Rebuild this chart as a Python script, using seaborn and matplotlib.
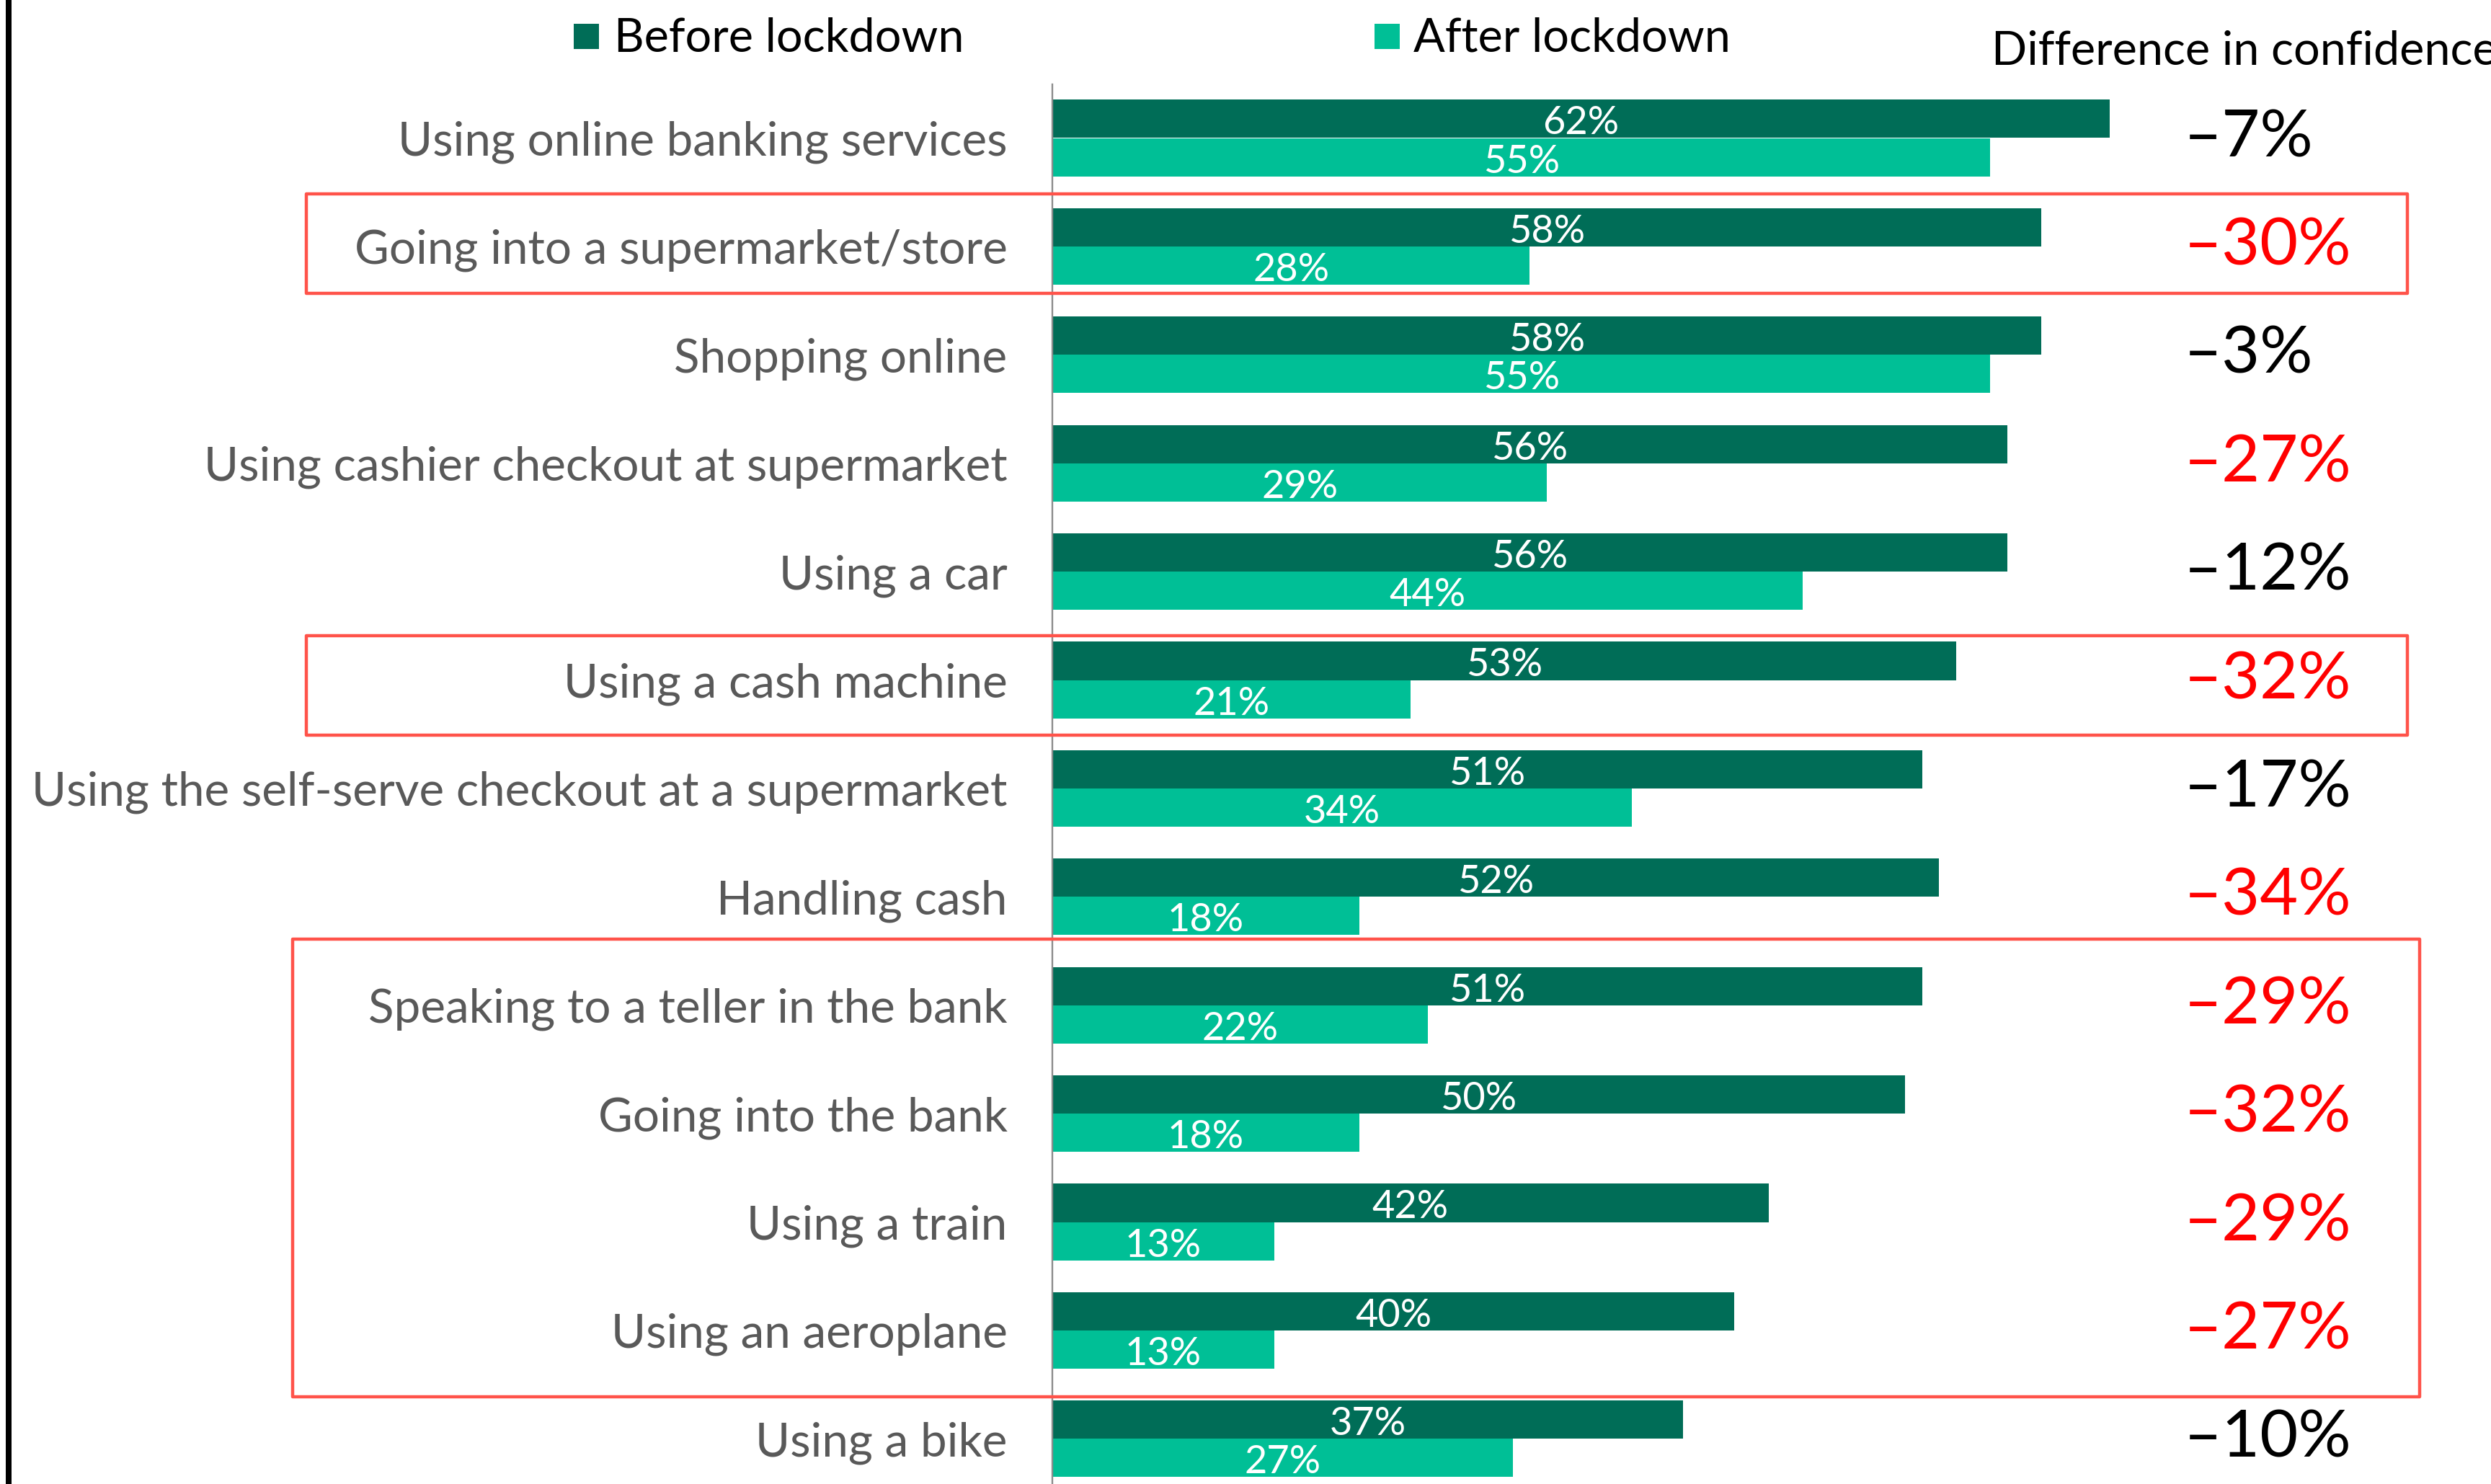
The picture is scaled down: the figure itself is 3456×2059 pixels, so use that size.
import matplotlib
matplotlib.use("Agg")
import matplotlib.pyplot as plt
import matplotlib.transforms as mtransforms
from matplotlib.patches import Rectangle
from matplotlib.lines import Line2D
import pandas as pd
import seaborn as sns

# Confidence in everyday activities, before vs after lockdown (%)
activities = [
    "Using online banking services",
    "Going into a supermarket/store",
    "Shopping online",
    "Using cashier checkout at supermarket",
    "Using a car",
    "Using a cash machine",
    "Using the self-serve checkout at a supermarket",
    "Handling cash",
    "Speaking to a teller in the bank",
    "Going into the bank",
    "Using a train",
    "Using an aeroplane",
    "Using a bike",
]
before = [62, 58, 58, 56, 56, 53, 51, 52, 51, 50, 42, 40, 37]
after = [55, 28, 55, 29, 44, 21, 34, 18, 22, 18, 13, 13, 27]
periods = ["Before lockdown", "After lockdown"]

# groups of rows outlined in red (first row index, last row index)
boxed_groups = [(1, 1), (5, 5), (8, 11)]
big_drop = -27  # differences at or below this are shown in red

DARK = "#006D57"
LIGHT = "#00BF96"
RED_TXT = "#FF0000"
BOX_RED = "#FF534A"
GREY_TXT = "#595959"

sns.set_theme(style="white")
plt.rcParams["font.family"] = ["Lato", "DejaVu Sans"]

W, H, DPI = 3456, 2059, 200
fig = plt.figure(figsize=(W / DPI, H / DPI), dpi=DPI)


def fx(x):
    return x / W


def fy(y):
    return 1 - y / H


AX_LEFT, AX_TOP = 1460, 117
PX_PER_PCT = 23.66
ROW, ROW0 = 150.4, 191.5

ax = fig.add_axes([fx(AX_LEFT), 0, 1 - fx(AX_LEFT), fy(AX_TOP)])

n = len(activities)
df = pd.DataFrame({
    "activity": activities * 2,
    "pct": before + after,
    "period": [periods[0]] * n + [periods[1]] * n,
})

sns.barplot(
    data=df, x="pct", y="activity", hue="period", orient="h",
    order=activities, hue_order=periods, palette=[DARK, LIGHT],
    saturation=1, width=0.705, legend=False, ax=ax,
    edgecolor="none", linewidth=0,
)

ax.set_xlim(0, (W - AX_LEFT) / PX_PER_PCT)
ax.set_ylim((H - ROW0) / ROW, (AX_TOP - ROW0) / ROW)
ax.set_xlabel("")
ax.set_ylabel("")
ax.set_xticks([])
ax.tick_params(axis="y", length=0, pad=22.5, labelsize=23.6, labelcolor=GREY_TXT)
for side in ("top", "right", "bottom"):
    ax.spines[side].set_visible(False)
ax.spines["left"].set_color("#8C8C8C")
ax.spines["left"].set_linewidth(0.85)

# value labels inside each bar
for container in ax.containers:
    for bar in container:
        val = bar.get_width()
        yc = bar.get_y() + bar.get_height() / 2
        ax.text(val / 2, yc + 0.143, f"{val:.0f}%", ha="center", va="baseline",
                color="white", fontsize=19.5)

# difference column
blend = mtransforms.blended_transform_factory(fig.transFigure, ax.transData)
for i, (b, a) in enumerate(zip(before, after)):
    d = a - b
    fig.text(fx(3030), i + 0.17, f"\u2013{abs(d)}%", transform=blend, ha="left",
             va="baseline", fontsize=33,
             color=RED_TXT if d <= big_drop else "black")

fig.text(fx(2763), fy(90), "Difference in confidence", ha="left",
         va="baseline", fontsize=23.3, color="black")

# highlight boxes
box_specs = [
    (boxed_groups[0], 425, 3340, 0.485, 0.433),
    (boxed_groups[1], 425, 3340, 0.41, 0.51),
    (boxed_groups[2], 406, 3357, 0.61, 0.61),
]
for (first, last), left, right, pad_top, pad_bot in box_specs:
    y0 = first - pad_top
    y1 = last + pad_bot
    rect = Rectangle((fx(left), y0), fx(right) - fx(left), y1 - y0,
                     transform=blend, fill=False, edgecolor=BOX_RED,
                     linewidth=1.6, joinstyle="round", clip_on=False, zorder=5)
    fig.add_artist(rect)

# legend
for label, color, sq_x, txt_x in [(periods[0], DARK, 796, 852),
                                   (periods[1], LIGHT, 1907, 1961)]:
    fig.add_artist(Rectangle((fx(sq_x), fy(68)), 35 / W, 35 / H,
                             transform=fig.transFigure, facecolor=color,
                             edgecolor="none"))
    fig.text(fx(txt_x), fy(72), label, ha="left", va="baseline",
             fontsize=23.3, color="black")

# frame line at the left edge
fig.add_artist(Line2D([fx(12), fx(12)], [0, 1], transform=fig.transFigure,
                      color="black", linewidth=8 * 72 / DPI))

fig.savefig("out.png", dpi=DPI)
